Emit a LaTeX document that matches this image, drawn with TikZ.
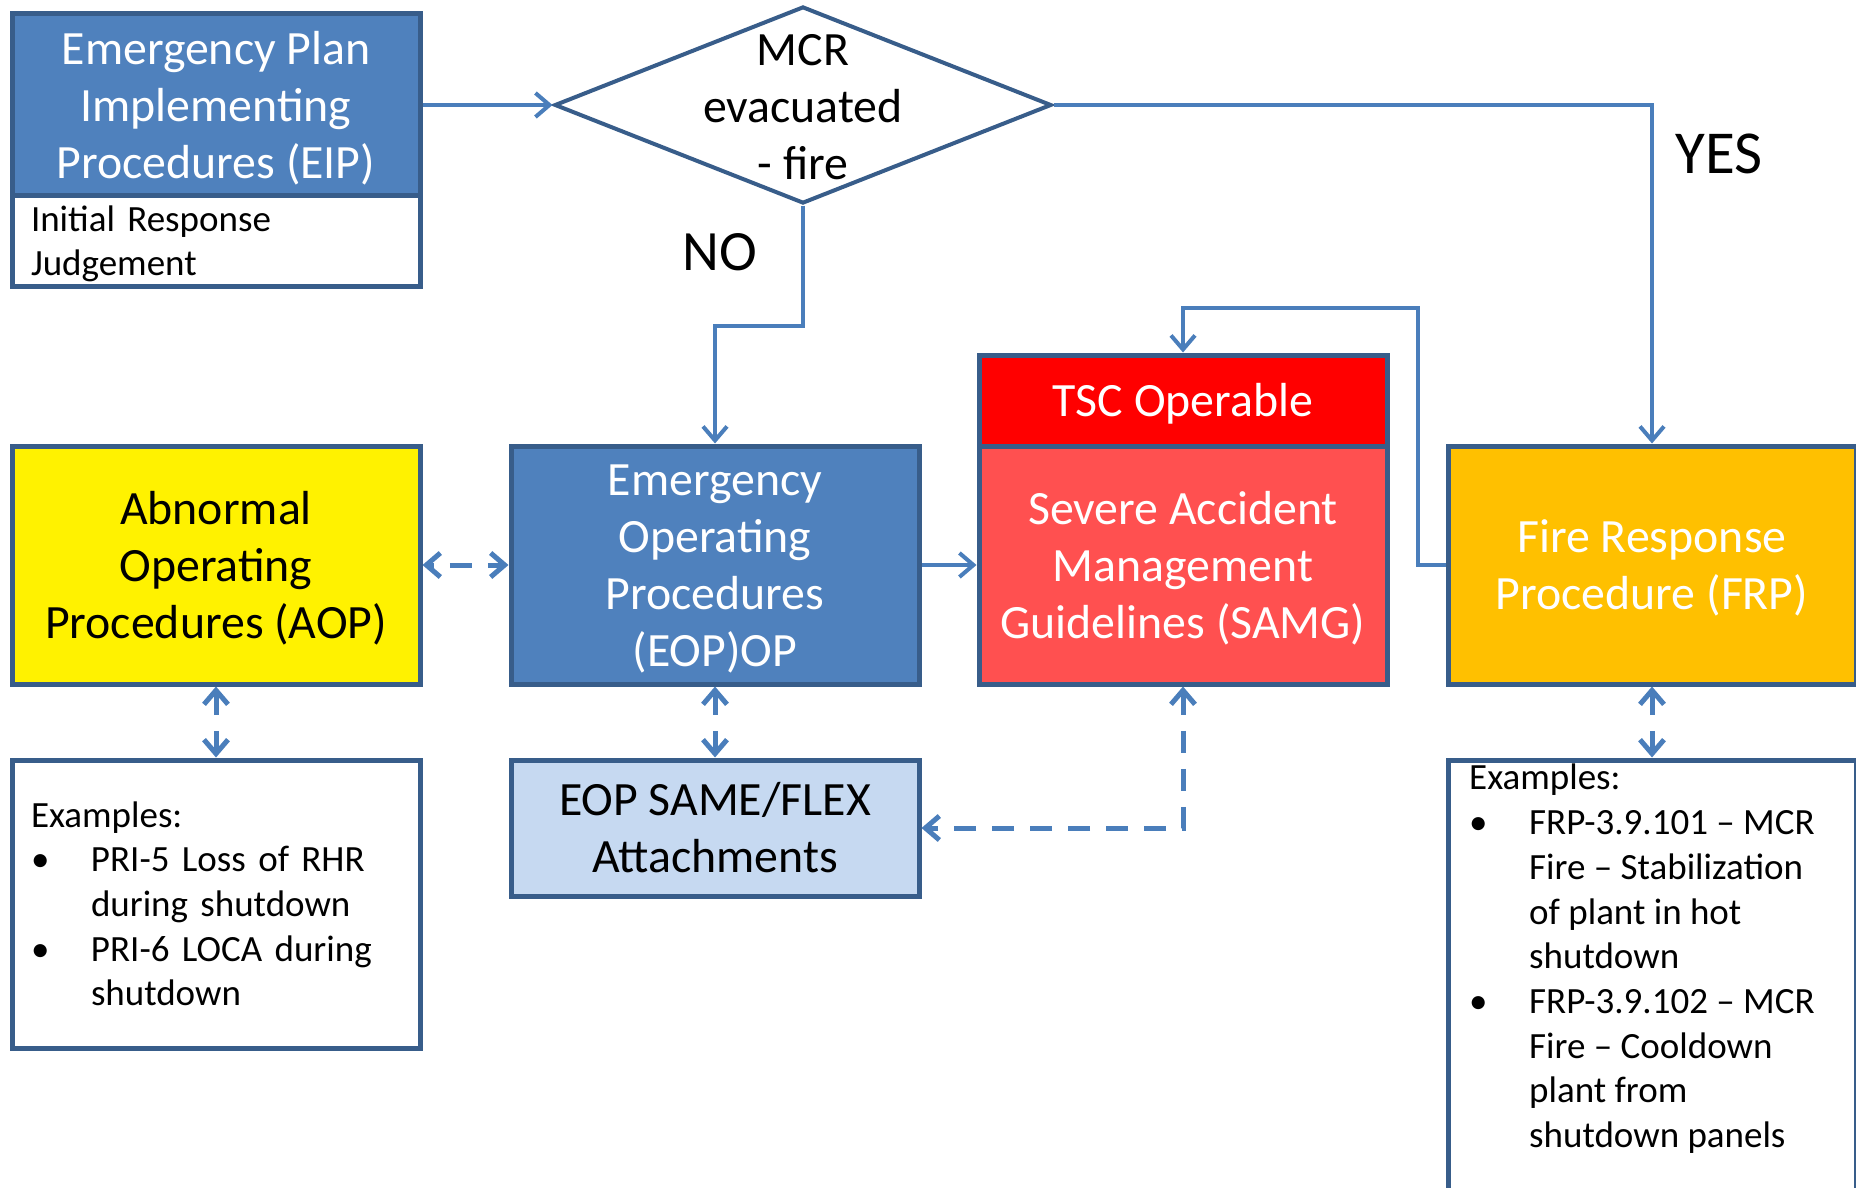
\documentclass[tikz,border=0pt]{standalone}
\usepackage{fontspec}
\setmainfont{Carlito}
\usetikzlibrary{shapes.geometric}
\usetikzlibrary{arrows.meta}
\definecolor{borderBlue}{HTML}{385D8A}
\definecolor{fillBlue}{HTML}{4F81BD}
\definecolor{lineBlue}{HTML}{4A7EBB}
\definecolor{paleBlue}{HTML}{C6D9F1}
\definecolor{samgRed}{HTML}{FF5050}
\definecolor{frpOrange}{HTML}{FFC000}
\newcommand{\bigText}{\fontsize{47.8}{57}\selectfont}
\newcommand{\smallText}{\fontsize{37}{44.7}\selectfont}
\newcommand{\labelText}{\fontsize{57}{68}\selectfont}
\newcommand{\topStrut}{\rule{0pt}{0.97em}}
\newcommand{\botStrut}{\rule[-0.29em]{0pt}{0pt}}
\newcommand{\bulletItem}{\makebox[60pt][l]{\textbullet}}
\newcommand{\noBullet}{\makebox[60pt][l]{}}

\begin{document}
\begin{tikzpicture}
[x=1pt,y=-1pt,%
  boxDecorate/.style={draw=borderBlue,line width=5pt,inner sep=0pt,minimum width=408pt,align=center,font=\bigText},%
  listDecorate/.style={draw=borderBlue,line width=5pt,inner sep=0pt,minimum width=408pt,text width=370pt,align=left,font=\smallText},%
  lineDecorate/.style={draw=lineBlue,line width=4pt,-{Straight Barb[length=14pt,width=24pt]}},%
  dashDecorate/.style={draw=lineBlue,line width=5pt,dash pattern=on 22pt off 16pt,%
    {Straight Barb[length=14pt,width=24pt]}-{Straight Barb[length=14pt,width=24pt]}}]
\useasboundingbox (0,0) rectangle (1856,1188);
%% top row
\node[boxDecorate,fill=fillBlue,text=white,minimum height=182pt] (eip) at (216,105) {\topStrut Emergency Plan\\Implementing\\Procedures (EIP)\botStrut};
\node[listDecorate,fill=white,minimum height=90pt] (irj) at (216,241) {\topStrut Initial Response\\Judgement\botStrut};
\node[diamond,draw=borderBlue,line width=4pt,inner sep=0pt,minimum width=497pt,minimum height=197pt] (mcr) at (803,105) {};
\node[font=\bigText,align=center] (mcrtext) at (803,107) {MCR\\evacuated\\- fire};
%% middle row
\node[boxDecorate,fill=yellow,minimum height=238pt] (aop) at (216,565) {\topStrut Abnormal\\Operating\\Procedures (AOP)\botStrut};
\node[boxDecorate,fill=fillBlue,text=white,minimum height=238pt] (eop) at (715,565) {\topStrut Emergency\\Operating\\Procedures\\(EOP)OP\botStrut};
\node[boxDecorate,fill=red,text=white,minimum height=91pt] (tsc) at (1183,400.5) {\topStrut TSC Operable\botStrut};
\node[boxDecorate,fill=samgRed,text=white,minimum height=238pt] (samg) at (1183,565) {\topStrut Severe Accident\\Management\\Guidelines (SAMG)\botStrut};
\node[boxDecorate,fill=frpOrange,text=white,minimum height=238pt] (frp) at (1652,565) {\topStrut Fire Response\\Procedure (FRP)\botStrut};
%% bottom row
\node[listDecorate,minimum height=288pt] (aopex) at (216,904) {\topStrut Examples:\\
  \bulletItem PRI-5 Loss of RHR\\\noBullet during shutdown\\
  \bulletItem PRI-6 LOCA during\\\noBullet shutdown\botStrut};
\node[boxDecorate,fill=paleBlue,minimum height=136pt] (flex) at (715,828) {\topStrut EOP SAME/FLEX\\Attachments\botStrut};
\node[boxDecorate,minimum height=460pt] (frpex) at (1652,990) {};
\node[anchor=north west,inner sep=0pt,align=left,font=\smallText] (frplist) at (1469,764) {Examples:\\
  \bulletItem FRP-3.9.101 – MCR\\\noBullet Fire – Stabilization\\\noBullet of plant in hot\\\noBullet shutdown\\
  \bulletItem FRP-3.9.102 – MCR\\\noBullet Fire – Cooldown\\\noBullet plant from\\\noBullet shutdown panels};
%% branch labels
\node[font=\labelText] (no) at (720,252) {NO};
\node[font=\fontsize{61}{72}\selectfont] (yes) at (1719,154) {YES};
%% connectors
\coordinate (nobend) at (715,326);
\coordinate (loopbend) at (1418,308);
\draw[lineDecorate] (eip.east) -- (mcr.west);
\draw[lineDecorate] (mcr.east) -| (frp.north);
\draw[lineDecorate] (mcr.south) |- (nobend) -- (eop.north);
\draw[lineDecorate] (frp.west) -| (loopbend) -| (tsc.north);
\draw[lineDecorate] (eop.east) -- (samg.west);
\draw[dashDecorate,dash phase=17pt] (aop.east) -- (eop.west);
\foreach \upper/\lower in {aop/aopex, eop/flex, frp/frpex}
  \draw[dashDecorate] (\upper.south) -- (\lower.north);
\draw[dashDecorate] (samg.south) |- (flex.east);
\end{tikzpicture}
\end{document}
